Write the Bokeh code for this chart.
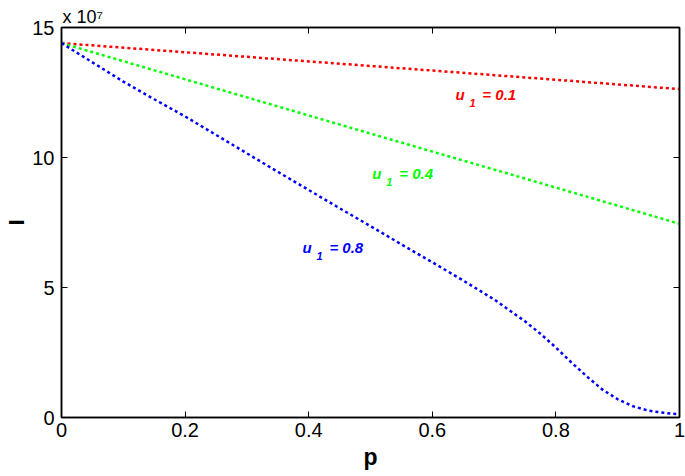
from bokeh.plotting import figure
from bokeh.models import Range1d, LinearAxis, FixedTicker, Label, CustomJSTickFormatter, Title
from bokeh.embed import file_html
from bokeh.resources import INLINE

# ---- data (I in units of 1e7) ----
p_red = [0.0, 0.25, 0.5, 0.75, 1.0]
I_red = [14.4, 13.96, 13.52, 13.08, 12.63]

p_green = [0.0, 0.25, 0.5, 0.75, 1.0]
I_green = [14.4, 12.66, 10.92, 9.19, 7.45]

p_blue = [0.0, 0.05, 0.1, 0.15, 0.2, 0.25, 0.3, 0.35, 0.4, 0.45, 0.5,
          0.55, 0.6, 0.65, 0.7, 0.725, 0.75, 0.775, 0.8, 0.825, 0.85,
          0.875, 0.9, 0.925, 0.95, 0.975, 1.0]
I_blue = [14.4, 13.66, 12.92, 12.24, 11.58, 10.87, 10.16, 9.45, 8.75, 8.05, 7.36,
          6.66, 5.97, 5.27, 4.54, 4.12, 3.70, 3.22, 2.69, 2.12, 1.58,
          1.08, 0.70, 0.43, 0.26, 0.18, 0.12]

x_ticks = [0, 0.2, 0.4, 0.6, 0.8, 1.0]
y_ticks = [0, 5, 10, 15]

series_colors = ["#ff0000", "#00ff00", "#0000ff"]
series_names = ["0.1", "0.4", "0.8"]
label_p = [0.6375, 0.503, 0.390]
label_I = [12.42, 9.38, 6.54]

FONT = "Liberation Sans"

fig = figure(width=685, height=476, x_range=Range1d(0, 1), y_range=Range1d(0, 15),
             output_backend="svg", toolbar_location=None,
             min_border_left=61, min_border_right=6, min_border_top=27, min_border_bottom=59)
fig.background_fill_color = "white"
fig.border_fill_color = "white"
fig.outline_line_color = "black"
fig.outline_line_width = 1.5
fig.xgrid.visible = False
fig.ygrid.visible = False


def style_axis(ax, ticks, labels=True):
    ax.ticker = FixedTicker(ticks=ticks)
    ax.major_tick_in = 6
    ax.major_tick_out = 0
    ax.minor_tick_line_color = None
    ax.axis_line_width = 1.5
    ax.axis_line_color = "black"
    ax.major_tick_line_color = "black"
    ax.major_tick_line_width = 1
    if labels:
        ax.major_label_text_font = FONT
        ax.major_label_text_font_size = "20px"
        ax.major_label_text_color = "black"
    else:
        ax.formatter = CustomJSTickFormatter(code="return ''")
        ax.major_label_text_font_size = "0px"
        ax.major_label_standoff = 0


bx = fig.xaxis[0]
style_axis(bx, x_ticks)
bx.formatter = CustomJSTickFormatter(code="return String(Math.round(tick*10)/10)")
bx.major_label_standoff = 5
bx.axis_label = "p"
bx.axis_label_text_font = FONT
bx.axis_label_text_font_style = "bold"
bx.axis_label_text_font_size = "23px"
bx.axis_label_text_color = "black"
bx.axis_label_standoff = 4

ly = fig.yaxis[0]
style_axis(ly, y_ticks)
ly.major_label_standoff = 7
ly.axis_label = "I"
ly.axis_label_text_font = FONT
ly.axis_label_text_font_style = "bold"
ly.axis_label_text_font_size = "22px"
ly.axis_label_text_color = "black"
ly.axis_label_standoff = 0

top = LinearAxis()
style_axis(top, x_ticks, labels=False)
fig.add_layout(top, "above")
right = LinearAxis()
style_axis(right, y_ticks, labels=False)
fig.add_layout(right, "right")

fig.add_layout(Title(text="x 10\u2077", align="left", offset=1, standoff=2,
                     text_font=FONT, text_font_style="normal", text_font_size="18px",
                     text_color="black"), "above")

for px, iy, c in [(p_red, I_red, series_colors[0]),
                  (p_green, I_green, series_colors[1]),
                  (p_blue, I_blue, series_colors[2])]:
    fig.line(px, iy, line_color=c, line_width=2.5, line_dash="3 3")

# curve labels: u_1 = value
for lx, lyv, c, name in zip(label_p, label_I, series_colors, series_names):
    fig.add_layout(Label(x=lx, y=lyv, text="u", text_color=c, text_font=FONT,
                         text_font_style="bold italic", text_font_size="15px",
                         text_baseline="alphabetic", text_align="left"))
    fig.add_layout(Label(x=lx + 0.0225, y=lyv - 0.34, text="1", text_color=c, text_font=FONT,
                         text_font_style="bold italic", text_font_size="11px",
                         text_baseline="alphabetic", text_align="left"))
    fig.add_layout(Label(x=lx + 0.0435, y=lyv, text="= " + name, text_color=c, text_font=FONT,
                         text_font_style="bold italic", text_font_size="15px",
                         text_baseline="alphabetic", text_align="left"))

open("out.html", "w").write(file_html(fig, INLINE))
